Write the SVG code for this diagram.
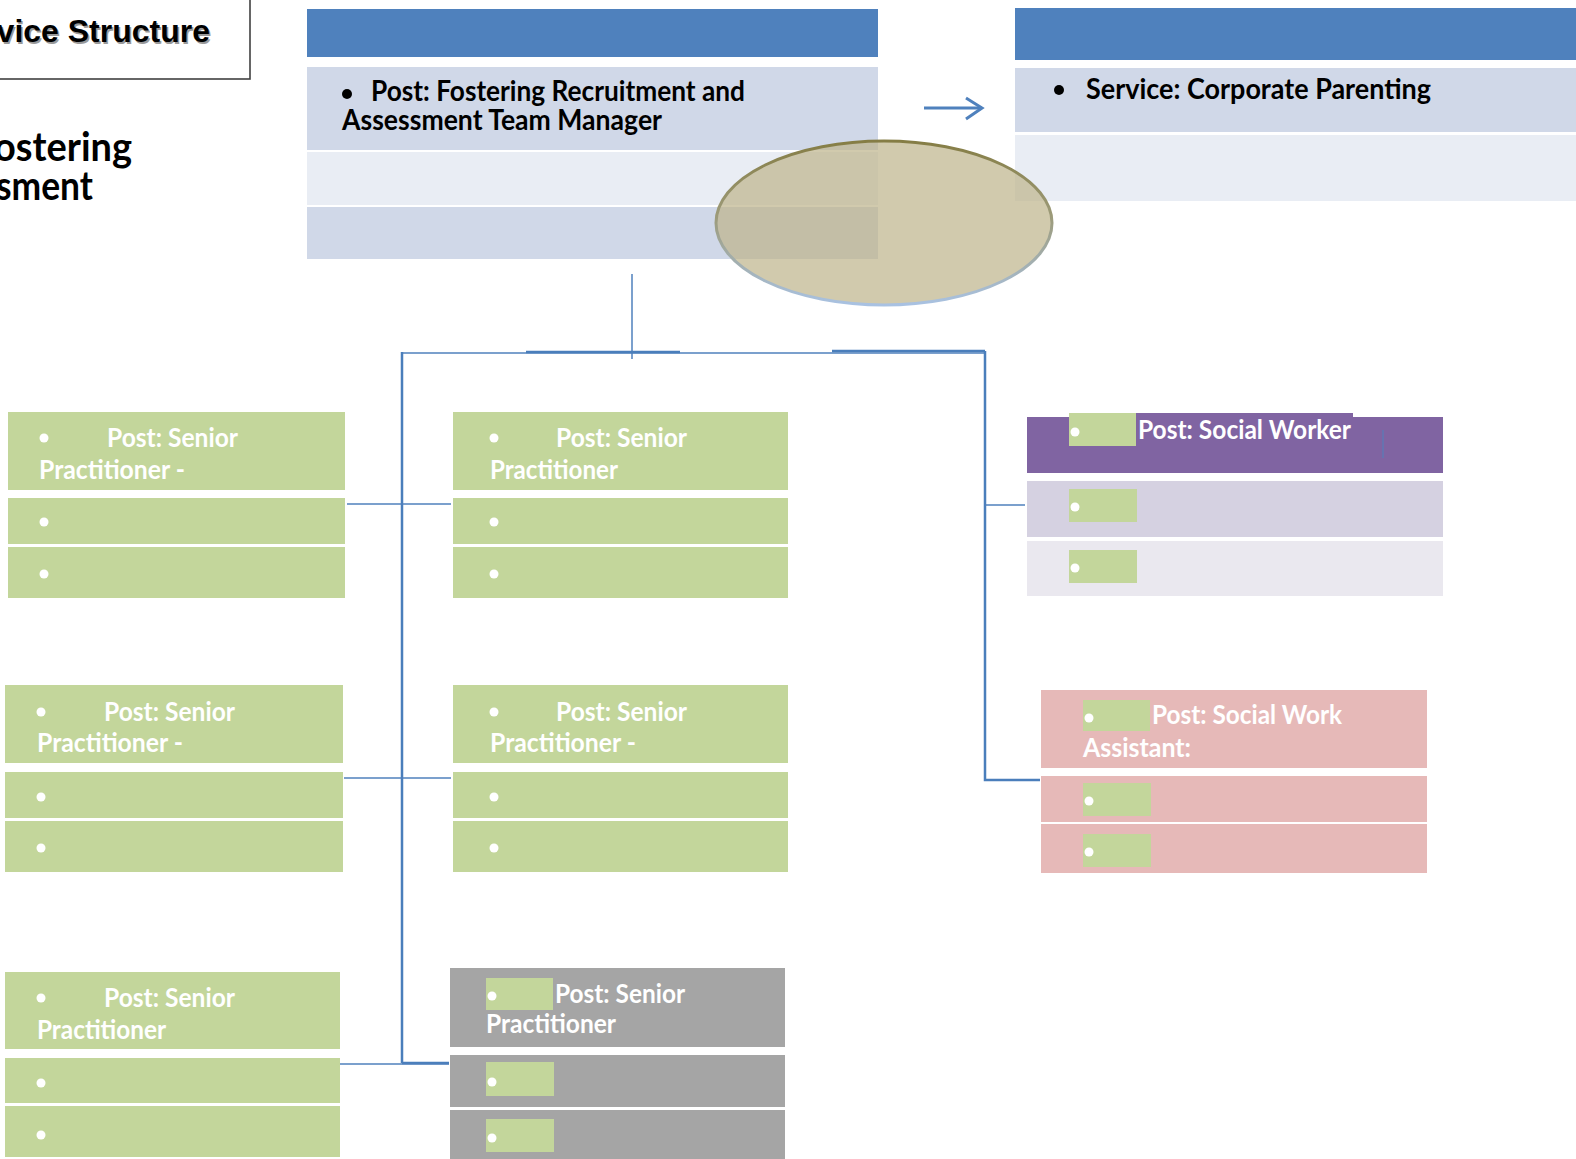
<svg xmlns="http://www.w3.org/2000/svg" width="1576" height="1159" viewBox="0 0 1576 1159">
<style>
.t{font-family:Lato,"Open Sans","Liberation Sans",sans-serif;font-weight:700}
.w{fill:#ffffff}
.k{fill:#000000}
.s26{font-size:26px}
.s28{font-size:28px}
.g{fill:#C3D69B}
.gr{fill:#A5A5A5}
.blue{fill:#4F81BD}
.l1{fill:#D0D8E8}
.l2{fill:#E9EDF4}
.pu{fill:#8064A2}
.pu2{fill:#D5D1E1}
.pu3{fill:#EAE8EF}
.pk{fill:#E6B9B8}
.c{fill:none;stroke:#4F81BD;stroke-width:1.5}
.ct{fill:none;stroke:#4A7EBB;stroke-width:2.5}
</style>
<defs>
<linearGradient id="ellStroke" x1="0" y1="0" x2="0" y2="1">
<stop offset="0" stop-color="#857D45"/>
<stop offset="0.45" stop-color="#9C9A78"/>
<stop offset="1" stop-color="#A9C2E2"/>
</linearGradient>
</defs>
<rect width="1576" height="1159" fill="#ffffff"/>

<g id="title">
<rect x="-5" y="-5" width="255" height="84" fill="#ffffff" stroke="#404040" stroke-width="1.6"/>
<text x="211.5" y="43.5" text-anchor="end" font-family="'Liberation Sans',Arial,sans-serif" font-weight="700" font-size="32" fill="#9a9a9a">vice Structure</text>
<text x="210" y="42" text-anchor="end" font-family="'Liberation Sans',Arial,sans-serif" font-weight="700" font-size="32" fill="#000">vice Structure</text>
<text class="t k" x="-6" y="161" font-size="40" textLength="138" lengthAdjust="spacingAndGlyphs">ostering</text>
<text class="t k" x="-4" y="200" font-size="40" textLength="97" lengthAdjust="spacingAndGlyphs">sment</text>
</g>

<g id="manager">
<rect class="blue" x="307" y="9" width="571" height="48"/>
<rect class="l1" x="307" y="67" width="571" height="83"/>
<rect class="l2" x="307" y="152" width="571" height="53"/>
<rect class="l1" x="307" y="207" width="571" height="52"/>
<circle class="k" cx="347" cy="94" r="5"/>
<text class="t k s28" x="371" y="101" textLength="374" lengthAdjust="spacingAndGlyphs">Post: Fostering Recruitment and</text>
<text class="t k s28" x="342" y="130" textLength="320" lengthAdjust="spacingAndGlyphs">Assessment Team Manager</text>
</g>

<g id="corporate">
<rect class="blue" x="1015" y="8" width="565" height="52"/>
<rect class="l1" x="1015" y="68" width="565" height="64"/>
<rect class="l2" x="1015" y="135" width="565" height="66"/>
<circle class="k" cx="1059" cy="90" r="5"/>
<text class="t k s28" x="1086" y="99" textLength="345" lengthAdjust="spacingAndGlyphs">Service: Corporate Parenting</text>
</g>

<g id="connectors">
<path class="c" d="M632 274 V359"/>
<path class="c" d="M402 353 H985"/>
<path class="ct" d="M526 352 H680 M832 351 H985"/>
<path class="ct" d="M402 352 V1063 M402 1063 H449"/>
<path class="ct" d="M985 351 V780 H1040"/>
<path class="c" d="M985 505 H1025"/>
<path class="c" d="M347 504 H451"/>
<path class="c" d="M344 778 H451"/>
<path class="c" d="M340 1064 H449"/>
<path d="M924 108 H982" stroke="#4F81BD" stroke-width="3" fill="none"/>
<path d="M966 98 L982 108 L966 119" stroke="#4F81BD" stroke-width="3" fill="none"/>
</g>

<g id="sp1">
<rect class="g" x="8" y="412" width="337" height="78"/>
<rect class="g" x="8" y="498" width="337" height="46"/>
<rect class="g" x="8" y="547" width="337" height="51"/>
<circle class="w" cx="44" cy="438" r="4.5"/>
<text class="t w s26" x="107" y="447" textLength="131" lengthAdjust="spacingAndGlyphs">Post: Senior</text>
<text class="t w s26" x="39" y="479" textLength="146" lengthAdjust="spacingAndGlyphs">Practitioner -</text>
<circle class="w" cx="44" cy="522" r="4.5"/>
<circle class="w" cx="44" cy="574" r="4.5"/>
</g>

<g id="sp2">
<rect class="g" x="453" y="412" width="335" height="78"/>
<rect class="g" x="453" y="498" width="335" height="46"/>
<rect class="g" x="453" y="547" width="335" height="51"/>
<circle class="w" cx="494" cy="438" r="4.5"/>
<text class="t w s26" x="556" y="447" textLength="131" lengthAdjust="spacingAndGlyphs">Post: Senior</text>
<text class="t w s26" x="490" y="479" textLength="128" lengthAdjust="spacingAndGlyphs">Practitioner</text>
<circle class="w" cx="494" cy="522" r="4.5"/>
<circle class="w" cx="494" cy="574" r="4.5"/>
</g>

<g id="sp3">
<rect class="g" x="5" y="685" width="338" height="78"/>
<rect class="g" x="5" y="772" width="338" height="46"/>
<rect class="g" x="5" y="821" width="338" height="51"/>
<circle class="w" cx="41" cy="712" r="4.5"/>
<text class="t w s26" x="104" y="721" textLength="131" lengthAdjust="spacingAndGlyphs">Post: Senior</text>
<text class="t w s26" x="37" y="752" textLength="146" lengthAdjust="spacingAndGlyphs">Practitioner -</text>
<circle class="w" cx="41" cy="797" r="4.5"/>
<circle class="w" cx="41" cy="848" r="4.5"/>
</g>

<g id="sp4">
<rect class="g" x="453" y="685" width="335" height="78"/>
<rect class="g" x="453" y="772" width="335" height="46"/>
<rect class="g" x="453" y="821" width="335" height="51"/>
<circle class="w" cx="494" cy="712" r="4.5"/>
<text class="t w s26" x="556" y="721" textLength="131" lengthAdjust="spacingAndGlyphs">Post: Senior</text>
<text class="t w s26" x="490" y="752" textLength="146" lengthAdjust="spacingAndGlyphs">Practitioner -</text>
<circle class="w" cx="494" cy="797" r="4.5"/>
<circle class="w" cx="494" cy="848" r="4.5"/>
</g>

<g id="sp5">
<rect class="g" x="5" y="972" width="335" height="77"/>
<rect class="g" x="5" y="1058" width="335" height="45"/>
<rect class="g" x="5" y="1106" width="335" height="51"/>
<circle class="w" cx="41" cy="998" r="4.5"/>
<text class="t w s26" x="104" y="1007" textLength="131" lengthAdjust="spacingAndGlyphs">Post: Senior</text>
<text class="t w s26" x="37" y="1039" textLength="129" lengthAdjust="spacingAndGlyphs">Practitioner</text>
<circle class="w" cx="41" cy="1083" r="4.5"/>
<circle class="w" cx="41" cy="1135" r="4.5"/>
</g>

<g id="sp6">
<rect class="gr" x="450" y="968" width="335" height="79"/>
<rect class="gr" x="450" y="1055" width="335" height="52"/>
<rect class="gr" x="450" y="1110" width="335" height="55"/>
<rect class="g" x="486" y="978" width="67" height="32"/>
<rect class="g" x="486" y="1062" width="68" height="34"/>
<rect class="g" x="486" y="1119" width="68" height="33"/>
<circle class="w" cx="492" cy="996" r="4.5"/>
<circle class="w" cx="492" cy="1082" r="4.5"/>
<circle class="w" cx="492" cy="1138" r="4.5"/>
<text class="t w s26" x="555" y="1003" textLength="130" lengthAdjust="spacingAndGlyphs">Post: Senior</text>
<text class="t w s26" x="486" y="1033" textLength="130" lengthAdjust="spacingAndGlyphs">Practitioner</text>
</g>

<g id="socialworker">
<rect class="pu" x="1027" y="417" width="416" height="56"/>
<rect class="pu" x="1136" y="413" width="217" height="28"/>
<rect class="pu2" x="1027" y="481" width="416" height="56"/>
<rect class="pu3" x="1027" y="541" width="416" height="55"/>
<rect class="g" x="1069" y="413" width="67" height="33"/>
<rect class="g" x="1069" y="489" width="68" height="33"/>
<rect class="g" x="1069" y="550" width="68" height="33"/>
<circle class="w" cx="1075" cy="432" r="4.5"/>
<circle class="w" cx="1075" cy="507" r="4.5"/>
<circle class="w" cx="1075" cy="568" r="4.5"/>
<text class="t w s26" x="1138" y="439" textLength="213" lengthAdjust="spacingAndGlyphs">Post: Social Worker</text>
<path d="M1383 430 V458" stroke="#4F81BD" stroke-width="1" fill="none"/>
</g>

<g id="swassistant">
<rect class="pk" x="1041" y="690" width="386" height="78"/>
<rect class="pk" x="1041" y="776" width="386" height="46"/>
<rect class="pk" x="1041" y="824" width="386" height="49"/>
<rect class="g" x="1083" y="700" width="67" height="31"/>
<rect class="g" x="1083" y="783" width="68" height="33"/>
<rect class="g" x="1083" y="834" width="68" height="33"/>
<circle class="w" cx="1089" cy="718" r="4.5"/>
<circle class="w" cx="1089" cy="801" r="4.5"/>
<circle class="w" cx="1089" cy="852" r="4.5"/>
<text class="t w s26" x="1152" y="724" textLength="190" lengthAdjust="spacingAndGlyphs">Post: Social Work</text>
<text class="t w s26" x="1083" y="757" textLength="108" lengthAdjust="spacingAndGlyphs">Assistant:</text>
</g>

<g id="ellipse">
<ellipse cx="884" cy="223" rx="168" ry="82" fill="#BDB48A" fill-opacity="0.7" stroke="url(#ellStroke)" stroke-width="3"/>
</g>
</svg>
